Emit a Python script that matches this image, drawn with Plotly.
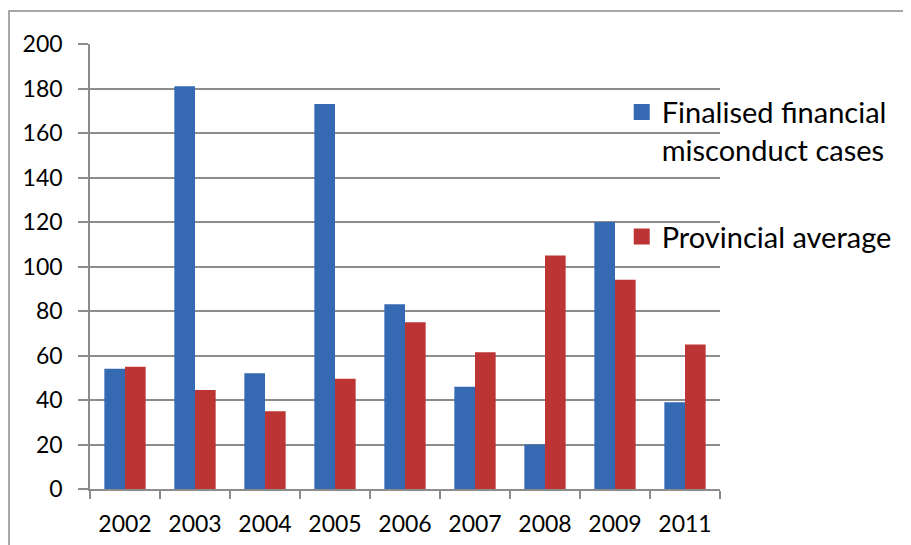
import plotly.graph_objects as go

years = ["2002", "2003", "2004", "2005", "2006", "2007", "2008", "2009", "2011"]
finalised_cases = [54, 181, 52, 173, 83, 46, 20, 120, 39]
provincial_avg = [55, 44.5, 35, 49.5, 75, 61.5, 105, 94, 65]
y_ticks = [0, 20, 40, 60, 80, 100, 120, 140, 160, 180, 200]
series_names = ["Finalised financial<br>misconduct cases", "Provincial average"]
series_colors = ["#3569b2", "#bd3434"]

FONT = "Lato, 'Open Sans', sans-serif"
GRID = "#8c8c8c"

fig = go.Figure()
for vals, name, color, grp in zip([finalised_cases, provincial_avg], series_names, series_colors, ["a", "b"]):
    fig.add_trace(go.Bar(
        x=years, y=vals, name=name, showlegend=False,
        marker=dict(color=color, line=dict(width=0)), legendgroup=grp,
    ))
    # legend-only entry with a larger square swatch
    fig.add_trace(go.Scatter(
        x=[None], y=[None], mode="markers", name=name, legendgroup=grp,
        marker=dict(symbol="square", size=16, color=color),
    ))

fig.update_layout(
    width=911, height=545,
    margin=dict(l=82, r=199, t=36, b=64, autoexpand=False),
    paper_bgcolor="white", plot_bgcolor="white",
    barmode="group", bargap=0.41, bargroupgap=0,
    font=dict(family=FONT, size=23, color="black"),
    legend=dict(
        x=0.844, xanchor="left", y=0.904, yanchor="top",
        traceorder="grouped", tracegroupgap=46, itemsizing="trace", valign="top",
        font=dict(family=FONT, size=29, color="black"),
        itemwidth=30, bgcolor="rgba(0,0,0,0)",
    ),
    xaxis=dict(
        type="category", showgrid=False, showline=True, linecolor=GRID, linewidth=1.5,
        ticks="outside", tickson="boundaries", ticklen=8, tickcolor=GRID, tickwidth=1.5,
        ticklabelstandoff=14, tickfont=dict(size=23), automargin=False,
    ),
    yaxis=dict(
        range=[0, 200], tickvals=y_ticks, showgrid=True, gridcolor=GRID, gridwidth=1.5,
        showline=True, linecolor=GRID, linewidth=1.5, zeroline=False,
        ticks="outside", ticklen=10, tickcolor=GRID, tickwidth=1.5,
        ticklabelstandoff=11, tickfont=dict(size=23), automargin=False,
    ),
    shapes=[dict(
        type="rect", xref="paper", yref="paper",
        x0=(9 - 90) / 630, x1=(915 - 90) / 630,
        y0=-(549 - 489) / 445, y1=(489 - 11) / 445,
        line=dict(color="#8a8a8a", width=1.5), fillcolor="rgba(0,0,0,0)", layer="below",
    )],
)

fig.write_html("out.html")
